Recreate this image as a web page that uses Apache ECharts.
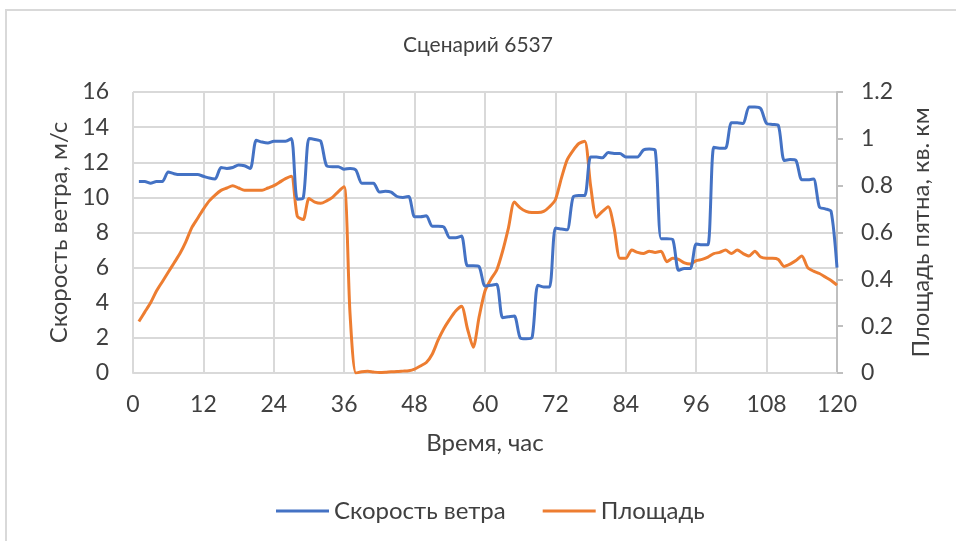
<!DOCTYPE html>
<html>
<head>
<meta charset="utf-8">
<script src="https://cdn.jsdelivr.net/npm/echarts@6/dist/echarts.min.js"></script>
<style>
  html, body { margin: 0; padding: 0; background: #ffffff; }
  #chart { width: 956px; height: 541px; }
</style>
</head>
<body>
<div id="chart"></div>
<script>
// Hours of the scenario (x axis)
const hours = [
  1, 2, 3, 4, 5, 6, 7, 8, 9, 10, 11, 12, 13, 14, 15, 16, 17, 18, 19, 20,
  21, 22, 23, 24, 25, 26, 27, 28, 29, 30, 31, 32, 33, 34, 35, 36, 37, 38, 39, 40,
  41, 42, 43, 44, 45, 46, 47, 48, 49, 50, 51, 52, 53, 54, 55, 56, 57, 58, 59, 60,
  61, 62, 63, 64, 65, 66, 67, 68, 69, 70, 71, 72, 73, 74, 75, 76, 77, 78, 79, 80,
  81, 82, 83, 84, 85, 86, 87, 88, 89, 90, 91, 92, 93, 94, 95, 96, 97, 98, 99, 100,
  101, 102, 103, 104, 105, 106, 107, 108, 109, 110, 111, 112, 113, 114, 115, 116, 117, 118, 119, 120
];

// Wind speed, m/s
const windSpeed = [
  10.9, 10.9, 10.8, 10.9, 10.9, 11.45, 11.35, 11.3, 11.3, 11.3, 11.3, 11.2, 11.1, 11.05, 11.7, 11.65, 11.7, 11.85, 11.8, 11.65,
  13.25, 13.15, 13.1, 13.2, 13.2, 13.2, 13.35, 9.9, 9.95, 13.35, 13.3, 13.2, 11.8, 11.75, 11.75, 11.6, 11.65, 11.55, 10.8, 10.8,
  10.8, 10.3, 10.35, 10.3, 10.05, 10.0, 10.05, 8.9, 8.9, 8.95, 8.35, 8.35, 8.3, 7.7, 7.7, 7.8, 6.1, 6.1, 6.05, 4.95,
  5.0, 5.05, 3.15, 3.2, 3.25, 2.0, 1.95, 2.0, 5.0, 4.9, 4.9, 8.25, 8.2, 8.15, 10.0, 10.1, 10.1, 12.3, 12.3, 12.25,
  12.55, 12.5, 12.5, 12.3, 12.3, 12.3, 12.7, 12.75, 12.7, 7.65, 7.65, 7.6, 5.85, 5.95, 5.95, 7.35, 7.3, 7.3, 12.85, 12.8,
  12.8, 14.25, 14.25, 14.2, 15.15, 15.15, 15.05, 14.2, 14.15, 14.1, 12.1, 12.15, 12.1, 11.0, 11.0, 11.05, 9.45, 9.35, 9.2, 6.0
];

// Slick area, sq. km
const slickArea = [
  0.22, 0.26, 0.30, 0.35, 0.39, 0.43, 0.47, 0.51, 0.56, 0.62, 0.66, 0.70, 0.735, 0.76, 0.78, 0.79, 0.80, 0.79, 0.78, 0.78,
  0.78, 0.78, 0.79, 0.80, 0.815, 0.83, 0.84, 0.67, 0.655, 0.745, 0.73, 0.725, 0.735, 0.75, 0.775, 0.795, 0.25, 0.0, 0.005, 0.007,
  0.004, 0.002, 0.003, 0.005, 0.006, 0.008, 0.01, 0.017, 0.03, 0.045, 0.08, 0.14, 0.19, 0.23, 0.265, 0.285, 0.19, 0.11, 0.24, 0.35,
  0.40, 0.44, 0.52, 0.62, 0.73, 0.705, 0.69, 0.685, 0.685, 0.69, 0.71, 0.74, 0.83, 0.91, 0.95, 0.98, 0.99, 0.80, 0.665, 0.69,
  0.71, 0.62, 0.49, 0.49, 0.525, 0.515, 0.51, 0.52, 0.515, 0.52, 0.475, 0.49, 0.485, 0.47, 0.465, 0.48, 0.485, 0.495, 0.51, 0.515,
  0.525, 0.51, 0.525, 0.51, 0.50, 0.52, 0.495, 0.49, 0.49, 0.485, 0.455, 0.465, 0.48, 0.50, 0.45, 0.435, 0.425, 0.41, 0.395, 0.375
];

const seriesNames = ['Скорость ветра', 'Площадь'];
const titleText = 'Сценарий 6537';
const xAxisName = 'Время, час';
const leftAxisName = 'Скорость ветра, м/с';
const rightAxisName = 'Площадь пятна, кв. км';

const FONT = 'Lato, "Open Sans", sans-serif';
const TEXT = '#404040';
const GRID = '#d9d9d9';
const TICK_SIZE = 23;
const NAME_SIZE = 24;

const pair = (vals) => hours.map((h, i) => [h, vals[i]]);

const chart = echarts.init(document.getElementById('chart'), null, { renderer: 'canvas' });

chart.setOption({
  backgroundColor: '#ffffff',
  animation: false,
  textStyle: { fontFamily: FONT, color: TEXT },
  graphic: [{
    type: 'rect',
    shape: { x: 6, y: 10, width: 970, height: 560 },
    style: { fill: null, stroke: '#d9d9d9', lineWidth: 2 },
    silent: true,
    z: -1
  }],
  title: {
    text: titleText,
    left: 'center',
    top: 30,
    textStyle: { fontFamily: FONT, fontSize: 21, fontWeight: 'normal', color: TEXT }
  },
  legend: {
    data: seriesNames,
    top: 494,
    left: 271,
    itemWidth: 53,
    itemHeight: 3,
    itemGap: 37,
    icon: 'rect',
    textStyle: { fontFamily: FONT, fontSize: NAME_SIZE, color: TEXT }
  },
  grid: { left: 133, right: 119, top: 92, bottom: 168, containLabel: false },
  xAxis: {
    type: 'value',
    min: 0,
    max: 120,
    interval: 12,
    name: xAxisName,
    nameLocation: 'middle',
    nameGap: 58,
    nameTextStyle: { fontFamily: FONT, fontSize: NAME_SIZE, color: TEXT },
    axisLine: { show: true, lineStyle: { color: GRID, width: 2 } },
    axisTick: { show: false },
    axisLabel: { fontFamily: FONT, fontSize: TICK_SIZE, color: TEXT, margin: 20 },
    splitLine: { show: true, lineStyle: { color: GRID, width: 2 } }
  },
  yAxis: [{
    type: 'value',
    min: 0,
    max: 16,
    interval: 2,
    position: 'left',
    name: leftAxisName,
    nameLocation: 'middle',
    nameGap: 55,
    nameRotate: 90,
    nameTextStyle: { fontFamily: FONT, fontSize: NAME_SIZE, color: TEXT },
    axisLine: { show: false },
    axisTick: { show: false },
    axisLabel: { fontFamily: FONT, fontSize: TICK_SIZE, color: TEXT, margin: 24 },
    splitLine: { show: true, lineStyle: { color: GRID, width: 2 } }
  }, {
    type: 'value',
    min: 0,
    max: 1.2,
    interval: 0.2,
    position: 'right',
    name: rightAxisName,
    nameLocation: 'middle',
    nameGap: 72,
    nameRotate: 90,
    nameTextStyle: { fontFamily: FONT, fontSize: NAME_SIZE, color: TEXT },
    axisLine: { show: true, lineStyle: { color: '#bfbfbf', width: 2 } },
    axisTick: { show: true, inside: false, length: 6, lineStyle: { color: '#bfbfbf', width: 2 } },
    axisLabel: {
      fontFamily: FONT, fontSize: TICK_SIZE, color: TEXT, margin: 24,
      formatter: (v) => String(Math.round(v * 10) / 10)
    },
    splitLine: { show: false }
  }],
  series: [{
    name: seriesNames[0],
    type: 'line',
    yAxisIndex: 0,
    data: pair(windSpeed),
    showSymbol: false,
    smooth: 0.25,
    lineStyle: { color: '#4472C4', width: 3 },
    itemStyle: { color: '#4472C4' },
    z: 3
  }, {
    name: seriesNames[1],
    type: 'line',
    yAxisIndex: 1,
    data: pair(slickArea),
    showSymbol: false,
    smooth: 0.25,
    lineStyle: { color: '#ED7D31', width: 3 },
    itemStyle: { color: '#ED7D31' },
    z: 2
  }]
});
</script>
</body>
</html>
